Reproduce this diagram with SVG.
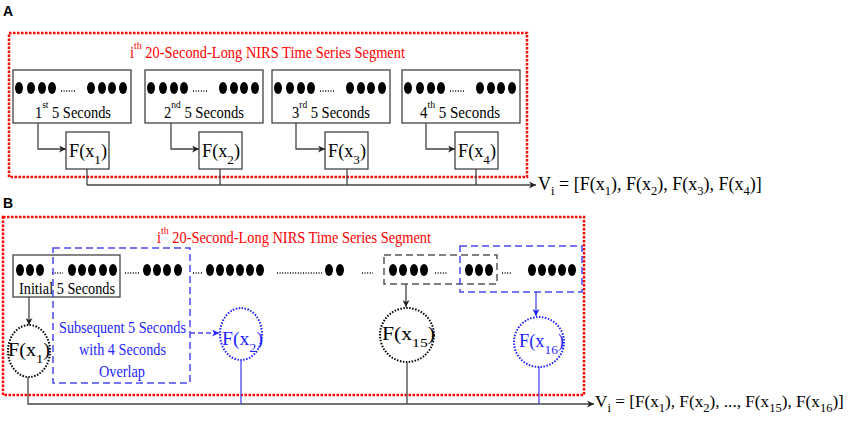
<svg xmlns="http://www.w3.org/2000/svg" width="851" height="426" viewBox="0 0 851 426">
<defs>
<style>
.lbl{font-family:"Liberation Sans",Arial,sans-serif;font-weight:bold;font-size:14px;fill:#000}
.t{font-family:"Liberation Serif","Times New Roman",serif;fill:#000}
.title{font-size:16px;fill:#f00}
.bx{font-size:17px}
.fx{font-size:18px}
.vi{font-size:18px}
.vib{font-size:17.2px}
.sub{font-size:12.5px}
.blue{fill:#1f1fff}
.red{fill:none;stroke:#f00;stroke-width:2.5;stroke-dasharray:2.5 1.5}
.box{fill:none;stroke:#444;stroke-width:1.3}
.con{fill:none;stroke:#444;stroke-width:1.3}
.bcon{fill:none;stroke:#4a4af5;stroke-width:1.3}
.ell{fill:none;stroke:#000;stroke-width:1.3;stroke-dasharray:1 1.6}
.bdash{fill:none;stroke:#4a4af0;stroke-width:1.5;stroke-dasharray:7 4}
.gdash{fill:none;stroke:#555;stroke-width:1.5;stroke-dasharray:7 4}
.kdot{fill:none;stroke:#000;stroke-width:2;stroke-dasharray:1.5 1.5}
.bdot{fill:none;stroke:#1f1fff;stroke-width:2;stroke-dasharray:1.5 1.5}
</style>
<ellipse id="d" rx="4" ry="6" fill="#000"/>
<marker id="ah" viewBox="0 0 10 10" refX="10" refY="5" markerWidth="8" markerHeight="7" markerUnits="userSpaceOnUse" orient="auto">
<path d="M0,0 L10,5 L0,10 L3,5 z" fill="#222"/>
</marker>
<marker id="ahb" viewBox="0 0 10 10" refX="10" refY="5" markerWidth="8" markerHeight="7" markerUnits="userSpaceOnUse" orient="auto">
<path d="M0,0 L10,5 L0,10 L3,5 z" fill="#1f1fff"/>
</marker>
</defs>
<rect width="851" height="426" fill="#fff"/>

<!-- Panel A -->
<text class="lbl" x="3" y="16">A</text>
<rect class="red" x="9" y="33" width="518" height="144"/>
<text class="t title" x="130" y="58" textLength="275" lengthAdjust="spacingAndGlyphs">i<tspan dy="-9" font-size="11">th</tspan><tspan dy="9"> 20-Second-Long NIRS Time Series Segment</tspan></text>

<g id="a-seg1" transform="translate(13,0)">
<rect class="box" x="0" y="70" width="118" height="53"/>
<use href="#d" x="6" y="88"/><use href="#d" x="18" y="88"/><use href="#d" x="29" y="88"/><use href="#d" x="39" y="88"/>
<line class="ell" x1="48" y1="91" x2="62" y2="91"/>
<use href="#d" x="78" y="88"/><use href="#d" x="89" y="88"/><use href="#d" x="99" y="88"/><use href="#d" x="110" y="88"/>
<text class="t bx" x="22" y="118" textLength="76" lengthAdjust="spacingAndGlyphs">1<tspan dy="-10" font-size="11">st</tspan><tspan dy="10"> 5 Seconds</tspan></text>
</g>
<g id="a-seg2" transform="translate(145,0)">
<rect class="box" x="0" y="70" width="118" height="53"/>
<use href="#d" x="6" y="88"/><use href="#d" x="18" y="88"/><use href="#d" x="29" y="88"/><use href="#d" x="39" y="88"/>
<line class="ell" x1="48" y1="91" x2="62" y2="91"/>
<use href="#d" x="78" y="88"/><use href="#d" x="89" y="88"/><use href="#d" x="99" y="88"/><use href="#d" x="110" y="88"/>
<text class="t bx" x="19" y="118" textLength="80" lengthAdjust="spacingAndGlyphs">2<tspan dy="-10" font-size="11">nd</tspan><tspan dy="10"> 5 Seconds</tspan></text>
</g>
<g id="a-seg3" transform="translate(272,0)">
<rect class="box" x="0" y="70" width="118" height="53"/>
<use href="#d" x="6" y="88"/><use href="#d" x="18" y="88"/><use href="#d" x="29" y="88"/><use href="#d" x="39" y="88"/>
<line class="ell" x1="48" y1="91" x2="62" y2="91"/>
<use href="#d" x="78" y="88"/><use href="#d" x="89" y="88"/><use href="#d" x="99" y="88"/><use href="#d" x="110" y="88"/>
<text class="t bx" x="20" y="118" textLength="78" lengthAdjust="spacingAndGlyphs">3<tspan dy="-10" font-size="11">rd</tspan><tspan dy="10"> 5 Seconds</tspan></text>
</g>
<g id="a-seg4" transform="translate(402,0)">
<rect class="box" x="0" y="70" width="118" height="53"/>
<use href="#d" x="6" y="88"/><use href="#d" x="18" y="88"/><use href="#d" x="29" y="88"/><use href="#d" x="39" y="88"/>
<line class="ell" x1="48" y1="91" x2="62" y2="91"/>
<use href="#d" x="78" y="88"/><use href="#d" x="89" y="88"/><use href="#d" x="99" y="88"/><use href="#d" x="110" y="88"/>
<text class="t bx" x="18" y="118" textLength="80" lengthAdjust="spacingAndGlyphs">4<tspan dy="-10" font-size="11">th</tspan><tspan dy="10"> 5 Seconds</tspan></text>
</g>

<g id="a-f1"><rect class="box" x="66" y="132" width="43" height="37"/><text class="t fx" x="69" y="157" textLength="38" lengthAdjust="spacingAndGlyphs">F(x<tspan dy="7" font-size="13">1</tspan><tspan dy="-7">)</tspan></text></g>
<g id="a-f2"><rect class="box" x="199" y="132" width="43" height="37"/><text class="t fx" x="202" y="157" textLength="38" lengthAdjust="spacingAndGlyphs">F(x<tspan dy="7" font-size="13">2</tspan><tspan dy="-7">)</tspan></text></g>
<g id="a-f3"><rect class="box" x="325" y="132" width="43" height="37"/><text class="t fx" x="328" y="157" textLength="38" lengthAdjust="spacingAndGlyphs">F(x<tspan dy="7" font-size="13">3</tspan><tspan dy="-7">)</tspan></text></g>
<g id="a-f4"><rect class="box" x="455" y="132" width="43" height="37"/><text class="t fx" x="458" y="157" textLength="38" lengthAdjust="spacingAndGlyphs">F(x<tspan dy="7" font-size="13">4</tspan><tspan dy="-7">)</tspan></text></g>

<g id="a-vi"><text class="t vi" x="538" y="190">V<tspan class="sub" dy="5">i</tspan><tspan dy="-5"> = [F(x</tspan><tspan class="sub" dy="5">1</tspan><tspan dy="-5">), F(x</tspan><tspan class="sub" dy="5">2</tspan><tspan dy="-5">), F(x</tspan><tspan class="sub" dy="5">3</tspan><tspan dy="-5">), F(x</tspan><tspan class="sub" dy="5">4</tspan><tspan dy="-5">)]</tspan></text></g>

<g id="a-connectors">
<path class="con" d="M38,123 V149 H66" marker-end="url(#ah)"/>
<path class="con" d="M171,123 V149 H199" marker-end="url(#ah)"/>
<path class="con" d="M296,123 V149 H325" marker-end="url(#ah)"/>
<path class="con" d="M426,123 V149 H455" marker-end="url(#ah)"/>
<path class="con" d="M87,169 V185 M220,169 V185 M347,169 V185 M476,169 V185"/>
<path class="con" d="M87,185 H536" marker-end="url(#ah)"/>
</g>

<!-- Panel B -->
<text class="lbl" x="3" y="208">B</text>
<rect class="red" x="3" y="217" width="581" height="178"/>
<text class="t title" x="157" y="243" textLength="274" lengthAdjust="spacingAndGlyphs">i<tspan dy="-9" font-size="11">th</tspan><tspan dy="9"> 20-Second-Long NIRS Time Series Segment</tspan></text>

<g id="b-initial">
<rect class="box" x="13" y="255" width="107" height="42"/>
<text class="t bx" x="19" y="294" textLength="96" lengthAdjust="spacingAndGlyphs">Initial 5 Seconds</text>
</g>
<g id="b-samples">
<use href="#d" x="20" y="270"/><use href="#d" x="30" y="270"/><use href="#d" x="40" y="270"/>
<line class="ell" x1="52" y1="273" x2="63" y2="273"/>
<use href="#d" x="72" y="270"/><use href="#d" x="82" y="270"/><use href="#d" x="92" y="270"/><use href="#d" x="103" y="270"/><use href="#d" x="113" y="270"/>
<line class="ell" x1="125" y1="273" x2="140" y2="273"/>
<use href="#d" x="147" y="270"/><use href="#d" x="157" y="270"/><use href="#d" x="167" y="270"/><use href="#d" x="178" y="270"/>
<line class="ell" x1="193" y1="273" x2="202" y2="273"/>
<use href="#d" x="210" y="270"/><use href="#d" x="220" y="270"/><use href="#d" x="230" y="270"/><use href="#d" x="240" y="270"/><use href="#d" x="250" y="270"/><use href="#d" x="260" y="270"/>
<line class="ell" x1="277" y1="273" x2="322" y2="273"/>
<use href="#d" x="329" y="270"/><use href="#d" x="340" y="270"/>
<line class="ell" x1="362" y1="273" x2="373" y2="273"/>
<use href="#d" x="393" y="270"/><use href="#d" x="403" y="270"/><use href="#d" x="414" y="270"/><use href="#d" x="424" y="270"/>
<line class="ell" x1="435" y1="273" x2="448" y2="273"/>
<use href="#d" x="469" y="270"/><use href="#d" x="479" y="270"/><use href="#d" x="489" y="270"/>
<line class="ell" x1="502" y1="273" x2="512" y2="273"/>
<use href="#d" x="532" y="270"/><use href="#d" x="542" y="270"/><use href="#d" x="552" y="270"/><use href="#d" x="562" y="270"/><use href="#d" x="572" y="270"/>
</g>
<g id="b-subsequent">
<rect class="bdash" x="53" y="248" width="137" height="135"/>
<text class="t bx blue" x="59" y="333" textLength="127" lengthAdjust="spacingAndGlyphs">Subsequent 5 Seconds</text>
<text class="t bx blue" x="79" y="355" textLength="87" lengthAdjust="spacingAndGlyphs">with 4 Seconds</text>
<text class="t bx blue" x="99" y="377" textLength="46" lengthAdjust="spacingAndGlyphs">Overlap</text>
</g>
<g id="b-window15"><rect class="gdash" x="384" y="255" width="113" height="29"/></g>
<g id="b-window16"><rect class="bdash" x="460" y="246" width="122" height="46"/></g>

<g id="b-f1"><ellipse class="kdot" cx="29" cy="351" rx="21" ry="26"/><text class="t fx" x="8" y="356" textLength="42" lengthAdjust="spacingAndGlyphs">F(x<tspan dy="7" font-size="13">1</tspan><tspan dy="-7">)</tspan></text></g>
<g id="b-f2"><ellipse class="bdot" cx="241" cy="334" rx="21" ry="26"/><text class="t fx blue" x="222" y="345" textLength="41" lengthAdjust="spacingAndGlyphs">F(x<tspan dy="7" font-size="13">2</tspan><tspan dy="-7">)</tspan></text></g>
<g id="b-f15"><ellipse class="kdot" cx="407" cy="335" rx="27" ry="27"/><text class="t fx" x="382" y="340" textLength="53" lengthAdjust="spacingAndGlyphs">F(x<tspan dy="7" font-size="13">15</tspan><tspan dy="-7">)</tspan></text></g>
<g id="b-f16"><ellipse class="bdot" cx="539" cy="342" rx="25" ry="25"/><text class="t fx blue" x="519" y="347" textLength="45" lengthAdjust="spacingAndGlyphs">F(x<tspan dy="7" font-size="13">16</tspan><tspan dy="-7">)</tspan></text></g>

<g id="b-vi"><text class="t vib" x="595" y="407">V<tspan class="sub" dy="5">i</tspan><tspan dy="-5"> = [F(x</tspan><tspan class="sub" dy="5">1</tspan><tspan dy="-5">), F(x</tspan><tspan class="sub" dy="5">2</tspan><tspan dy="-5">), ..., F(x</tspan><tspan class="sub" dy="5">15</tspan><tspan dy="-5">), F(x</tspan><tspan class="sub" dy="5">16</tspan><tspan dy="-5">)]</tspan></text></g>

<g id="b-connectors">
<path class="con" d="M29,297 V325" marker-end="url(#ah)"/>
<path class="bcon" d="M190,333 H219" stroke-dasharray="5 3" marker-end="url(#ahb)"/>
<path class="con" d="M406,284 V307" marker-end="url(#ah)"/>
<path class="bcon" d="M536,292 V316" marker-end="url(#ahb)"/>
<path class="con" d="M28,377 V404 H594" marker-end="url(#ah)"/>
<path class="con" d="M407,362 V404"/>
<path class="bcon" d="M241,360 V404 M539,367 V404"/>
</g>
</svg>
